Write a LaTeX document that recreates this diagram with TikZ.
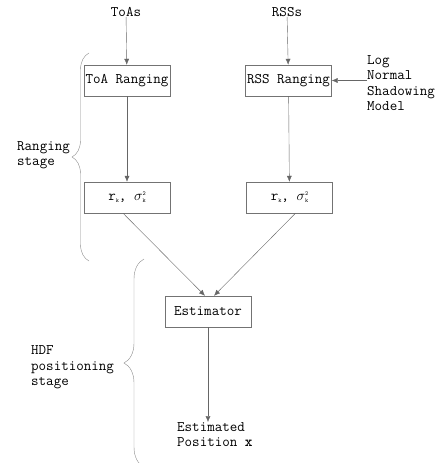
\documentclass[tikz,border=0pt]{standalone}
\usepackage{fontspec}
\usetikzlibrary{arrows.meta,positioning,decorations.pathreplacing}

\begin{document}
\begin{tikzpicture}[
    x=1pt, y=-1pt,
    font=\ttfamily\fontsize{14.6}{15.5}\selectfont,
    box/.style={rectangle, draw=black!55, minimum width=86pt, minimum height=31pt, inner sep=1pt, align=center},
    lbl/.style={align=left, inner sep=0pt},
    arrow/.style={-{Latex[length=6pt,width=5pt]}, draw=black!60, thin},
    stagebrace/.style={draw=black!45, thin, decorate, decoration={brace, amplitude=#1}},
]
    \useasboundingbox (0,0) rectangle (442,463);

    % Inputs
    \node[lbl] (toas) at (126,12) {ToAs};
    \node[lbl] (rsss) at (287,12) {RSSs};

    % Nodes
    \node[box] (toarng) at (127,80.5) {ToA Ranging};
    \node[box] (rssrng) at (288.5,80.5) {RSS Ranging};
    \node[box] (toaout) at (127,197.5) {r\raisebox{-2pt}{\fontsize{6}{6}\selectfont k}, $\sigma$\rlap{\raisebox{-2pt}{\fontsize{6}{6}\selectfont k}}\raisebox{5pt}{\fontsize{6}{6}\selectfont 2}};
    \node[box] (rssout) at (289.5,197.5) {r\raisebox{-2pt}{\fontsize{6}{6}\selectfont k}, $\sigma$\rlap{\raisebox{-2pt}{\fontsize{6}{6}\selectfont k}}\raisebox{5pt}{\fontsize{6}{6}\selectfont 2}};
    \node[box] (est) at (208,311.5) {Estimator};
    \node[lbl, anchor=west] (model) at (367,83) {Log\\Normal\\Shadowing\\Model};
    \node[lbl, anchor=west] (pos) at (177,434.5) {Estimated\\Position \textbf{x}};

    % Arrows
    \draw[arrow] (toas) -- (toarng);
    \draw[arrow] (rsss) -- (rssrng);
    \draw[arrow] (model.west |- rssrng) -- (rssrng);
    \draw[arrow] (toarng) -- (toaout);
    \draw[arrow] (rssrng) -- (rssout);
    \draw[arrow] ([xshift=-4]toaout.south) -- ([xshift=-3]est.north);
    \draw[arrow] ([xshift=6]rssout.south) -- ([xshift=6]est.north);
    \draw[arrow] (est) -- (pos.north -| est);

    % Stages
    \draw[stagebrace=17pt] (89,261) -- (89,53);
    \node[lbl, anchor=west] (rstage) at (17,155) {Ranging\\stage};
    \draw[stagebrace=20pt] (144,467) -- (144,259);
    \node[lbl, anchor=west] (hstage) at (31,367.5) {HDF\\positioning\\stage};
\end{tikzpicture}
\end{document}
